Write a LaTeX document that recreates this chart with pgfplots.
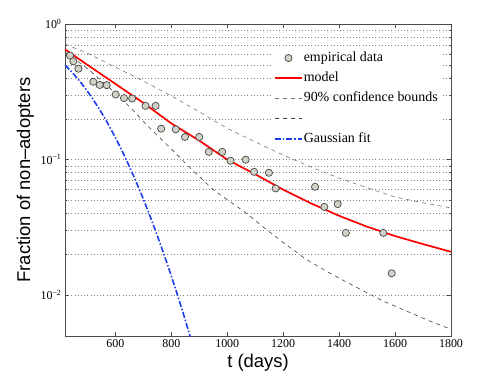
\documentclass[border=0pt]{standalone}
\usepackage{fontspec}
\setmainfont{Liberation Serif}
\setsansfont{Liberation Sans}
\usepackage{pgfplots}
\pgfplotsset{compat=1.18}

\definecolor{mkfill}{RGB}{208,210,198}
\definecolor{mkedge}{RGB}{70,70,70}
\definecolor{gfit}{RGB}{30,60,240}

\pgfplotsset{
  lineleg/.style={legend image code/.code={\draw[##1] (0bp,0bp) -- (27bp,0bp);}},
  markleg/.style={legend image code/.code={\draw[mark repeat=2,mark phase=2,##1] plot coordinates {(0bp,0bp) (13.5bp,0bp) (27bp,0bp)};}},
}

\begin{document}
\begin{tikzpicture}
\begin{axis}[
  scale only axis, width=386bp, height=312bp,
  ymode=log,
  xmin=420, xmax=1800, ymin=0.005, ymax=1,
  xtick={600,800,...,1800},
  ytick={0.01,0.1,1},
  yticklabels={10\textsuperscript{−2},10\textsuperscript{−1},10\textsuperscript{0}},
  /pgf/number format/1000 sep={},
  /pgf/number format/assume math mode=true,
  tick align=inside,
  major tick length=4bp, minor tick length=2.5bp,
  ymajorgrids, yminorgrids,
  major grid style={black!50, line width=0.5bp, dash pattern=on 0.8bp off 2.4bp},
  minor grid style={black!50, line width=0.5bp, dash pattern=on 0.8bp off 2.4bp},
  axis line style={draw=black!70, line width=0.8bp},
  every tick/.style={black!70, line width=0.5bp},
  ticklabel style={font=\rmfamily\fontsize{12}{13}\selectfont},
  xlabel={t (days)},
  ylabel={Fraction of non–adopters},
  label style={font=\sffamily\fontsize{18.5}{20}\selectfont},
  xlabel style={at={(axis description cs:0.5,-0.085)}, anchor=center},
  ylabel style={at={(axis description cs:-0.103,0.5)}, anchor=center},
  legend style={at={(axis description cs:0.536,0.922)}, anchor=north west,
    draw=none, fill=white, inner sep=2bp, row sep=5.2bp,
    font=\rmfamily\fontsize{14}{16}\selectfont,
    nodes={inner sep=1bp, text height=10bp, text depth=3bp},
    cells={anchor=west}},
]

% empirical data
\addplot[only marks, mark=*, mark size=3.6bp,
  mark options={fill=mkfill, draw=mkedge, line width=0.7bp}, markleg]
coordinates {
(438,0.585) (450,0.530) (468,0.468) (521,0.375) (544,0.355) (569,0.354)
(601,0.302) (631,0.284) (660,0.282) (708,0.249) (744,0.249) (764,0.169)
(816,0.167) (849,0.147) (900,0.147) (934,0.114) (982,0.114) (1012,0.098)
(1066,0.0997) (1096,0.0813) (1149,0.080) (1173,0.0613) (1314,0.063)
(1347,0.0448) (1395,0.047) (1424,0.0288) (1558,0.0288) (1588,0.0145)
};
\addlegendentry{empirical data}

% model
\addplot[red, line width=1.7bp, lineleg] coordinates {
(420,0.65) (500,0.50) (600,0.362) (700,0.262) (800,0.185) (900,0.138)
(1000,0.100) (1100,0.078) (1200,0.060) (1300,0.0475) (1400,0.0385)
(1500,0.032) (1600,0.0273) (1700,0.0238) (1800,0.0209)
};
\addlegendentry{model}

% upper 90% bound
\addplot[black!55, line width=0.6bp, dash pattern=on 4bp off 4bp, lineleg] coordinates {
(420,0.71) (500,0.61) (600,0.48) (700,0.38) (800,0.295) (900,0.225)
(1000,0.17) (1100,0.135) (1200,0.108) (1300,0.088) (1400,0.073)
(1500,0.062) (1600,0.053) (1700,0.048) (1800,0.044)
};
\addlegendentry{90\% confidence bounds}

% lower 90% bound
\addplot[black!75, line width=0.6bp, dash pattern=on 4bp off 4bp, lineleg] coordinates {
(420,0.62) (500,0.47) (600,0.31) (660,0.235) (712,0.18) (800,0.12)
(867,0.087) (950,0.060) (1070,0.040) (1140,0.0305) (1200,0.0245)
(1280,0.0185) (1350,0.0152) (1420,0.0127) (1500,0.0104) (1560,0.0090)
(1650,0.0075) (1720,0.0065) (1800,0.0056)
};
\addlegendentry{\mbox{}}

% Gaussian fit
\addplot[gfit, line width=1.6bp, dash pattern=on 6bp off 2bp on 1.5bp off 2bp, lineleg] coordinates {
(420,0.498) (445,0.441) (470,0.385) (495,0.330) (520,0.279) (545,0.232)
(570,0.1894) (595,0.1524) (620,0.1206) (645,0.0939) (670,0.0720)
(695,0.0543) (720,0.0402) (745,0.0294) (770,0.0211) (795,0.0149)
(820,0.01036) (845,0.00709) (870,0.00477)
};
\addlegendentry{Gaussian fit}

\end{axis}
\pgfresetboundingbox
\path[use as bounding box] (current axis.south west) ++(-65bp,-47bp)
  rectangle ([xshift=47bp,yshift=24bp]current axis.north east);
\end{tikzpicture}
\end{document}
